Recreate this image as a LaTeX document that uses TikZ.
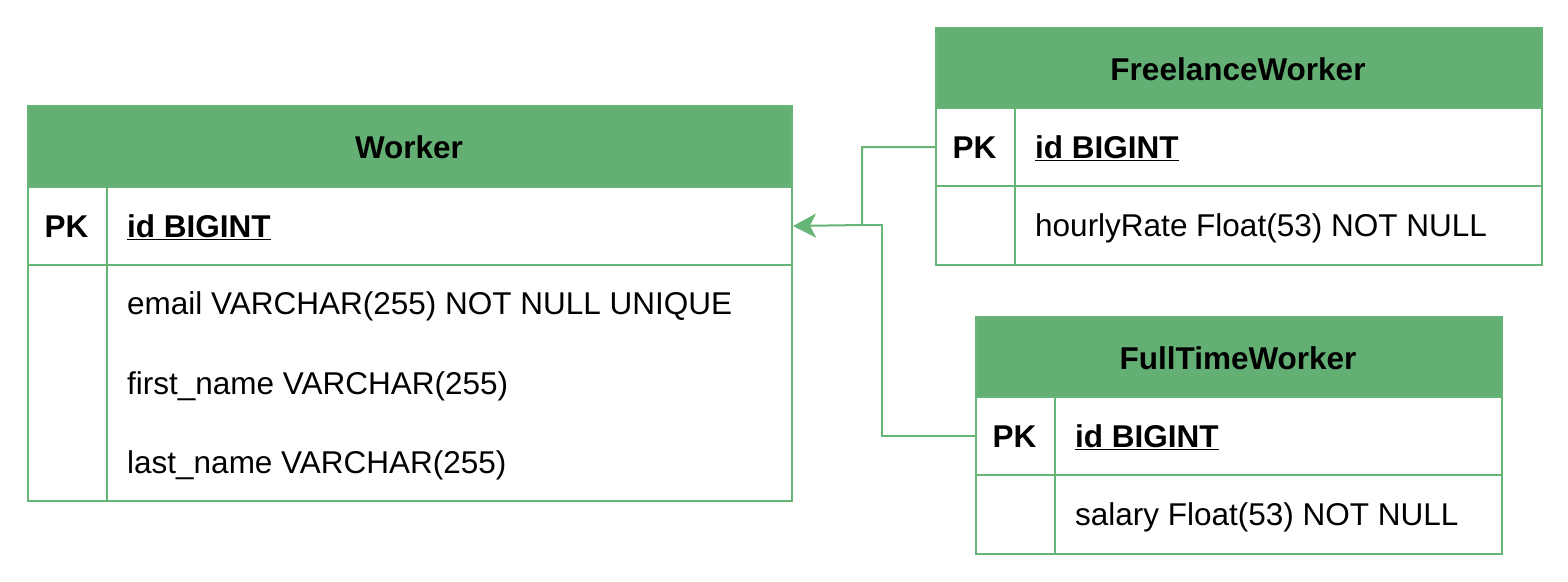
\documentclass[tikz,border=0pt]{standalone}
\usepackage{fontspec}
\setmainfont{Liberation Sans}
\usetikzlibrary{arrows.meta}
\definecolor{hdr}{RGB}{100,176,116}
\definecolor{edge}{RGB}{102,180,118}
\begin{document}
\begin{tikzpicture}[x=1pt,y=-1pt,
  cell/.style={draw=edge,line width=2pt,inner sep=0pt,anchor=north west},
  hcell/.style={cell,fill=hdr},
  txt/.style={font=\fontsize{31.5}{36}\selectfont,inner sep=0pt},
  btxt/.style={font=\fontsize{31.5}{36}\selectfont\bfseries,inner sep=0pt},
  conn/.style={draw=edge,line width=2pt},
  arr/.style={conn,-{Stealth[length=23pt,width=24pt,inset=6pt]}}]
\useasboundingbox (0,0) rectangle (1568,581);
% ---------- Worker ----------
\node[hcell,minimum width=764pt,minimum height=81pt] (wh) at (27,105) {};
\node[btxt] (wht) at (409,147) {Worker};
\node[cell,minimum width=79pt,minimum height=78pt] (wpk) at (27,186) {};
\node[cell,minimum width=685pt,minimum height=78pt] (wid) at (106,186) {};
\node[cell,minimum width=79pt,minimum height=236pt] (wk2) at (27,264) {};
\node[cell,minimum width=685pt,minimum height=236pt] (wb) at (106,264) {};
\node[btxt] (wpkt) at (66.5,227) {PK};
\node[btxt,anchor=west] (widt) at (127,227) {\underline{id BIGINT}};
\node[txt,anchor=west] (w1) at (127,306) {email VARCHAR(255) NOT NULL UNIQUE};
\node[txt,anchor=west] (w2) at (127,386) {first\_name VARCHAR(255)};
\node[txt,anchor=west] (w3) at (127,465) {last\_name VARCHAR(255)};
% ---------- FreelanceWorker ----------
\node[hcell,minimum width=606pt,minimum height=80pt] (fh) at (935,27) {};
\node[btxt] (fht) at (1238,69) {FreelanceWorker};
\node[cell,minimum width=79pt,minimum height=78pt] (fpk) at (935,107) {};
\node[cell,minimum width=527pt,minimum height=78pt] (fid) at (1014,107) {};
\node[cell,minimum width=79pt,minimum height=79pt] (fk2) at (935,185) {};
\node[cell,minimum width=527pt,minimum height=79pt] (fb) at (1014,185) {};
\node[btxt] (fpkt) at (974.5,148) {PK};
\node[btxt,anchor=west] (fidt) at (1035,148) {\underline{id BIGINT}};
\node[txt,anchor=west] (f1) at (1035,228) {hourlyRate Float(53) NOT NULL};
% ---------- FullTimeWorker ----------
\node[hcell,minimum width=526pt,minimum height=80pt] (th) at (975,316) {};
\node[btxt] (tht) at (1238,358) {FullTimeWorker};
\node[cell,minimum width=79pt,minimum height=78pt] (tpk) at (975,396) {};
\node[cell,minimum width=447pt,minimum height=78pt] (tid) at (1054,396) {};
\node[cell,minimum width=79pt,minimum height=79pt] (tk2) at (975,474) {};
\node[cell,minimum width=447pt,minimum height=79pt] (tb) at (1054,474) {};
\node[btxt] (tpkt) at (1014.5,437) {PK};
\node[btxt,anchor=west] (tidt) at (1075,437) {\underline{id BIGINT}};
\node[txt,anchor=west] (t1) at (1075,517) {salary Float(53) NOT NULL};
% ---------- connectors ----------
\coordinate (jf) at (862,225);
\draw[arr] (fpk.west) -| (jf) -- (wid.east);
\draw[conn] (tpk.west) -| (882,225) -- (jf);
\end{tikzpicture}
\end{document}
